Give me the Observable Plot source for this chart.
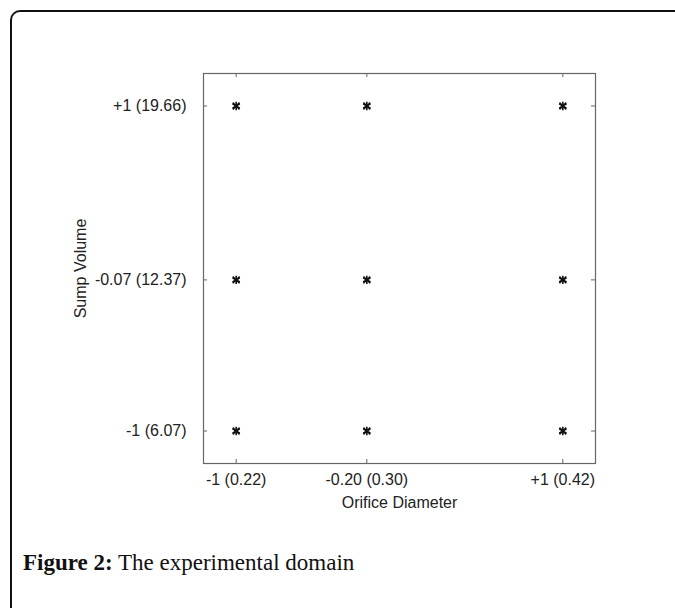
<!DOCTYPE html>
<html>
<head>
<meta charset="utf-8">
<script src="https://cdn.jsdelivr.net/npm/d3@7"></script>
<script src="https://cdn.jsdelivr.net/npm/@observablehq/plot@0.6"></script>
<style>
  html, body { margin: 0; padding: 0; background: #fff; }
  #wrap { position: relative; width: 675px; height: 608px; overflow: hidden; }
  #box { position: absolute; left: 10px; top: 10px; width: 700px; height: 640px;
         border-top: 2px solid #111; border-left: 2px solid #111; border-top-left-radius: 10px; }
  #chart { position: absolute; left: 0; top: 0; }
  #caption { position: absolute; left: 23px; top: 550px; font-family: "Liberation Serif", "Times New Roman", serif;
             font-size: 23px; color: #111; white-space: nowrap; }
</style>
</head>
<body>
<div id="wrap">
  <div id="box"></div>
  <div id="chart"></div>
  <div id="caption"><b>Figure 2:</b> The experimental domain</div>
</div>
<script>
// Coded levels (actual values in parentheses)
const xLevels = [-1, -0.20, 1];
const xLabels = ["-1 (0.22)", "-0.20 (0.30)", "+1 (0.42)"];
const yLevels = [-1, -0.07, 1];
const yLabels = ["-1 (6.07)", "-0.07 (12.37)", "+1 (19.66)"];
const xTitle = "Orifice Diameter";
const yTitle = "Sump Volume";

// Full factorial design points: every x level with every y level
const points = [];
for (const x of xLevels) for (const y of yLevels) points.push({x, y});

const xFmt = d => xLabels[xLevels.indexOf(d)];
const yFmt = d => yLabels[yLevels.indexOf(d)];

const W = 675, H = 520, mL = 203, mR = 80, mT = 73, mB = 57, tick = 4;
const innerW = W - mL - mR, innerH = H - mT - mB;

const chart = Plot.plot({
  width: W,
  height: H,
  marginLeft: mL,
  marginRight: mR,
  marginTop: mT,
  marginBottom: mB,
  style: {fontFamily: "'Liberation Sans', Arial, sans-serif", fontSize: "16px", color: "#222", background: "transparent"},
  x: {domain: [-1.2, 1.2]},
  y: {domain: [-1.2, 1.2]},
  marks: [
    Plot.frame({stroke: "#666", strokeWidth: 1.2}),
    // inward ticks on all four sides
    Plot.ruleX(xLevels, {x: d => d, insetTop: innerH - tick, stroke: "#666"}),
    Plot.ruleX(xLevels, {x: d => d, insetBottom: innerH - tick, stroke: "#666"}),
    Plot.ruleY(yLevels, {y: d => d, insetRight: innerW - tick, stroke: "#666"}),
    Plot.ruleY(yLevels, {y: d => d, insetLeft: innerW - tick, stroke: "#666"}),
    // tick labels
    Plot.axisX(xLevels, {anchor: "bottom", tickSize: 0, tickPadding: 10, tickFormat: xFmt,
      label: xTitle, labelAnchor: "center", labelArrow: "none", labelOffset: 44, fill: "#222", fontSize: 16}),
    Plot.axisY(yLevels, {anchor: "left", tickSize: 0, tickPadding: 17, tickFormat: yFmt,
      label: yTitle, labelAnchor: "center", labelArrow: "none", labelOffset: 129, fill: "#222", fontSize: 16}),
    Plot.dot(points, {x: "x", y: "y", symbol: "asterisk", r: 4, stroke: "#111", strokeWidth: 1.6}),
    Plot.dot(points, {x: "x", y: "y", symbol: "times", r: 3.2, stroke: "#111", strokeWidth: 1.6})
  ]
});
document.getElementById("chart").appendChild(chart);
</script>
</body>
</html>
